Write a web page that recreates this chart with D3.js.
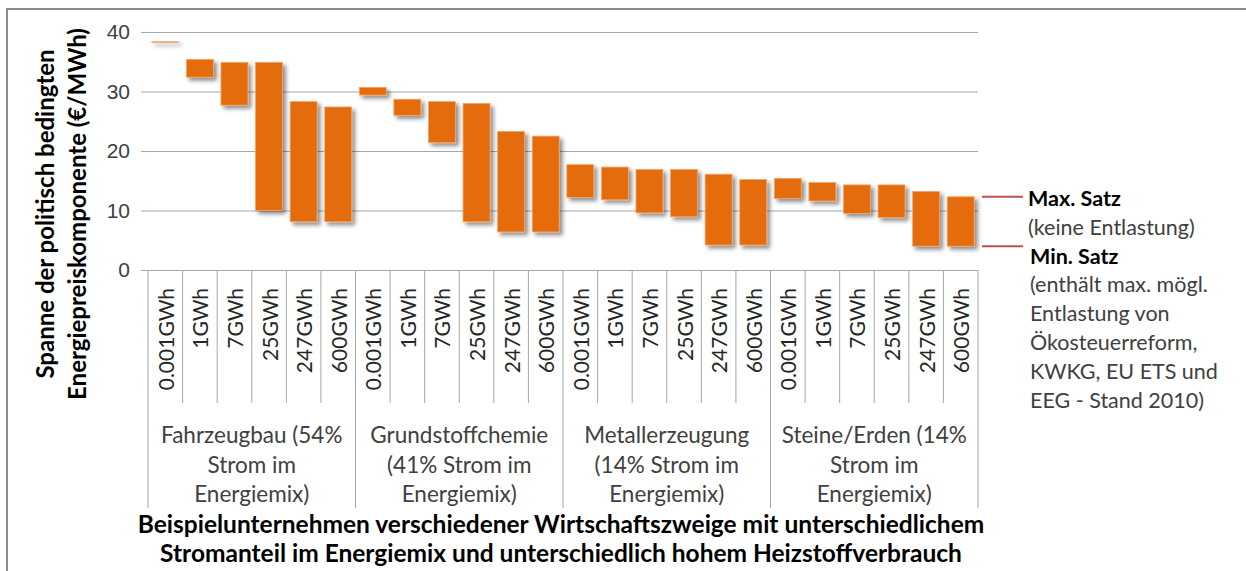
<!DOCTYPE html>
<html>
<head>
<meta charset="utf-8">
<script src="https://cdn.jsdelivr.net/npm/d3@7"></script>
<style>
  body { margin: 0; background: #fff; }
  svg { display: block; font-family: Lato, "Noto Sans", sans-serif; }
  .grid line { stroke: #a6a6a6; stroke-width: 1; }
  .grid .domain { display: none; }
  .grid text { fill: #404040; font-size: 21px; }
</style>
</head>
<body>
<svg id="chart" width="1246" height="571"></svg>
<script>
// data
const volumes = ["0.001GWh", "1GWh", "7GWh", "25GWh", "247GWh", "600GWh"];
const branches = [
  ["Fahrzeugbau (54%", "Strom im", "Energiemix)"],
  ["Grundstoffchemie", "(41% Strom im", "Energiemix)"],
  ["Metallerzeugung", "(14% Strom im", "Energiemix)"],
  ["Steine/Erden (14%", "Strom im", "Energiemix)"]
];
// Max. Satz (keine Entlastung), in order of branches x volumes
const maxSatz = [38.35, 35.4, 34.9, 34.9, 28.3, 27.4,
                 30.7, 28.7, 28.3, 28.0, 23.3, 22.5,
                 17.7, 17.3, 16.9, 16.9, 16.1, 15.2,
                 15.4, 14.7, 14.3, 14.3, 13.2, 12.3];
// Min. Satz (max. moegliche Entlastung)
const minSatz = [38.25, 32.4, 27.7, 10.0, 8.1, 8.1,
                 29.4, 26.0, 21.4, 8.1, 6.4, 6.4,
                 12.2, 11.8, 9.6, 8.95, 4.2, 4.2,
                 12.0, 11.6, 9.5, 8.8, 4.0, 4.0];
const yTicks = [0, 10, 20, 30, 40];
const yTitle = ["Spanne der politisch bedingten", "Energiepreiskomponente (€/MWh)"];
const xTitle = ["Beispielunternehmen verschiedener Wirtschaftszweige mit unterschiedlichem",
                "Stromanteil im Energiemix und unterschiedlich hohem Heizstoffverbrauch"];
const legendMax = ["Max. Satz", "(keine Entlastung)"];
const legendMin = ["Min. Satz", "(enthält  max. mögl.", "Entlastung von", "Ökosteuerreform,",
                   "KWKG, EU ETS und", "EEG - Stand 2010)"];

const rows = [];
branches.forEach((b, gi) => {
  volumes.forEach((v, vi) => {
    const i = gi * volumes.length + vi;
    rows.push({ key: gi + "-" + v, group: gi, label: v, max: maxSatz[i], min: minSatz[i] });
  });
});

const svg = d3.select("#chart");
const PLOT = { left: 148, right: 978, top: 32, bottom: 270 };

// outer frame
svg.append("rect")
  .attr("x", 7).attr("y", 9)
  .attr("width", 1300).attr("height", 700)
  .attr("fill", "none")
  .attr("stroke", "#8c8c8c")
  .attr("stroke-width", 2);

// drop shadow for the bars
const defs = svg.append("defs");
defs.append("filter")
  .attr("id", "shadow")
  .attr("x", "-20%").attr("y", "-20%").attr("width", "150%").attr("height", "150%")
  .append("feDropShadow")
  .attr("dx", 3).attr("dy", 3)
  .attr("stdDeviation", 2)
  .attr("flood-color", "#000")
  .attr("flood-opacity", 0.45);

const x = d3.scaleBand()
  .domain(rows.map(d => d.key))
  .range([PLOT.left, PLOT.right])
  .paddingInner(0.22)
  .paddingOuter(0.11);

const y = d3.scaleLinear()
  .domain([0, 40])
  .range([PLOT.bottom, PLOT.top]);

// gridlines + y labels
svg.append("g")
  .attr("class", "grid")
  .attr("transform", `translate(${PLOT.left}, 0)`)
  .call(d3.axisLeft(y).tickValues(yTicks).tickSize(-(PLOT.right - PLOT.left)).tickPadding(18))
  .call(g => g.selectAll(".tick line").attr("x1", -7));

// category separators
const step = x.step();
const x0 = x.range()[0];
const sep = svg.append("g").attr("stroke", "#a6a6a6").attr("stroke-width", 1);
d3.range(rows.length + 1).forEach(i => {
  const isGroup = i % volumes.length === 0;
  sep.append("line")
    .attr("x1", x0 + i * step).attr("x2", x0 + i * step)
    .attr("y1", PLOT.bottom)
    .attr("y2", isGroup ? 508 : 403);
});

// volume labels (rotated)
svg.append("g").selectAll("text")
  .data(rows)
  .join("text")
  .attr("transform", d => `translate(${x(d.key) + x.bandwidth() / 2}, 288) rotate(-90)`)
  .attr("text-anchor", "end")
  .attr("dominant-baseline", "central")
  .attr("fill", "#262626")
  .style("font-size", "21px")
  .text(d => d.label);

// branch labels
const groupText = svg.append("g")
  .attr("fill", "#404040")
  .style("font-size", "22.5px")
  .attr("text-anchor", "middle");
branches.forEach((lines, gi) => {
  const cx = x0 + (gi + 0.5) * volumes.length * step;
  lines.forEach((t, li) => {
    groupText.append("text")
      .attr("x", cx)
      .attr("y", 443 + li * 29.5)
      .text(t);
  });
});

// range bars
svg.append("g")
  .attr("filter", "url(#shadow)")
  .selectAll("rect")
  .data(rows)
  .join("rect")
  .attr("x", d => x(d.key))
  .attr("y", d => y(d.max))
  .attr("width", x.bandwidth())
  .attr("height", d => y(d.min) - y(d.max))
  .attr("fill", "#e46c0a")
  .attr("stroke", "#f5a668")
  .attr("stroke-width", 0.8);

// y axis title
const yt = svg.append("text")
  .attr("transform", `translate(0, 214) rotate(-90)`)
  .attr("text-anchor", "middle")
  .attr("fill", "#000")
  .style("font-size", "24px")
  .style("font-weight", "bold");
yTitle.forEach((t, i) => {
  yt.append("tspan").attr("x", 0).attr("y", 54 + i * 32).text(t);
});

// x axis title
const xt = svg.append("text")
  .attr("text-anchor", "middle")
  .attr("fill", "#000")
  .style("font-size", "24.5px")
  .style("font-weight", "bold");
xTitle.forEach((t, i) => {
  xt.append("tspan").attr("x", 561).attr("y", 533 + i * 29).text(t);
});

// legend: red markers at the last bar's max and min
const last = rows[rows.length - 1];
const legend = svg.append("g");
[last.max, last.min].forEach(v => {
  legend.append("line")
    .attr("x1", 982).attr("x2", 1023)
    .attr("y1", y(v)).attr("y2", y(v))
    .attr("stroke", "#c0504d")
    .attr("stroke-width", 2);
});
const legendLines = [
  { t: legendMax[0], bold: true, x: 1028 },
  { t: legendMax[1], bold: false, x: 1028 },
  { t: legendMin[0], bold: true, x: 1030 }
].concat(legendMin.slice(1).map(t => ({ t: t, bold: false, x: 1030 })));
legend.selectAll("text")
  .data(legendLines)
  .join("text")
  .attr("x", d => d.x)
  .attr("y", (d, i) => 206 + i * 28.8)
  .attr("fill", d => d.bold ? "#000" : "#404040")
  .style("font-size", "21.5px")
  .style("font-weight", d => d.bold ? "bold" : "normal")
  .text(d => d.t);
</script>
</body>
</html>
